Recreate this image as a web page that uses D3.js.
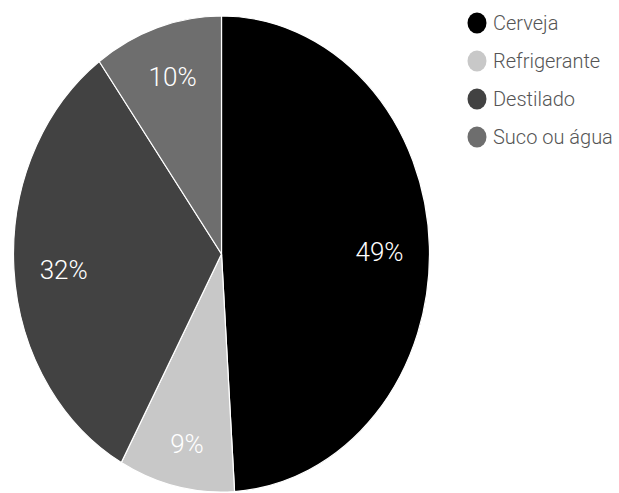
<!DOCTYPE html>
<html>
<head>
<meta charset="utf-8">
<script src="https://cdn.jsdelivr.net/npm/d3@7"></script>
<style>
  html, body { margin: 0; padding: 0; background: #fff; }
  svg { display: block; }
</style>
</head>
<body>
<svg id="chart" width="619" height="493"></svg>
<script>
// Beverage preference shares (percent)
const categories = ["Cerveja", "Refrigerante", "Destilado", "Suco ou água"];
const shares = [49, 9, 32, 10];
const colors = ["#000000", "#c8c8c8", "#424242", "#6e6e6e"];

const svg = d3.select("#chart");

// Pie geometry: slightly taller than wide
const cx = 221.5, cy = 254;
const rx = 208, ry = 238;

const pie = d3.pie().sort(null).value(d => d.value);
const slices = pie(categories.map((c, i) => ({ name: c, value: shares[i], color: colors[i] })));

const arc = d3.arc().innerRadius(0).outerRadius(rx);

const g = svg.append("g")
  .attr("transform", `translate(${cx},${cy}) scale(1,${ry / rx})`);

g.selectAll("path")
  .data(slices)
  .join("path")
  .attr("d", arc)
  .attr("fill", d => d.data.color)
  .attr("stroke", "#ffffff")
  .attr("stroke-width", 1.2)
  .attr("vector-effect", "non-scaling-stroke");

// Percentage labels placed along each slice's mid angle
const labelKx = 0.76, labelKy = 0.8, labelShift = 4;
svg.append("g")
  .selectAll("text")
  .data(slices)
  .join("text")
  .attr("x", d => {
    const a = (d.startAngle + d.endAngle) / 2;
    return cx + Math.sin(a) * rx * labelKx;
  })
  .attr("y", d => {
    const a = (d.startAngle + d.endAngle) / 2;
    return cy + labelShift - Math.cos(a) * ry * labelKy;
  })
  .attr("text-anchor", "middle")
  .attr("dominant-baseline", "central")
  .attr("font-family", "Roboto, Arial, sans-serif")
  .attr("font-weight", 300)
  .attr("font-size", 26)
  .attr("fill", "#ffffff")
  .text(d => d.data.value + "%");

// Legend
const legendX = 477, legendY0 = 23, legendStep = 38;
const legend = svg.append("g")
  .selectAll("g")
  .data(slices)
  .join("g")
  .attr("transform", (d, i) => `translate(${legendX},${legendY0 + i * legendStep})`);

legend.append("ellipse")
  .attr("rx", 9.5)
  .attr("ry", 10.5)
  .attr("fill", d => d.data.color);

legend.append("text")
  .attr("x", 16)
  .attr("y", 0)
  .attr("dominant-baseline", "central")
  .attr("font-family", "Roboto, Arial, sans-serif")
  .attr("font-weight", 300)
  .attr("font-size", 20)
  .attr("fill", "#555555")
  .text(d => d.data.name);
</script>
</body>
</html>
